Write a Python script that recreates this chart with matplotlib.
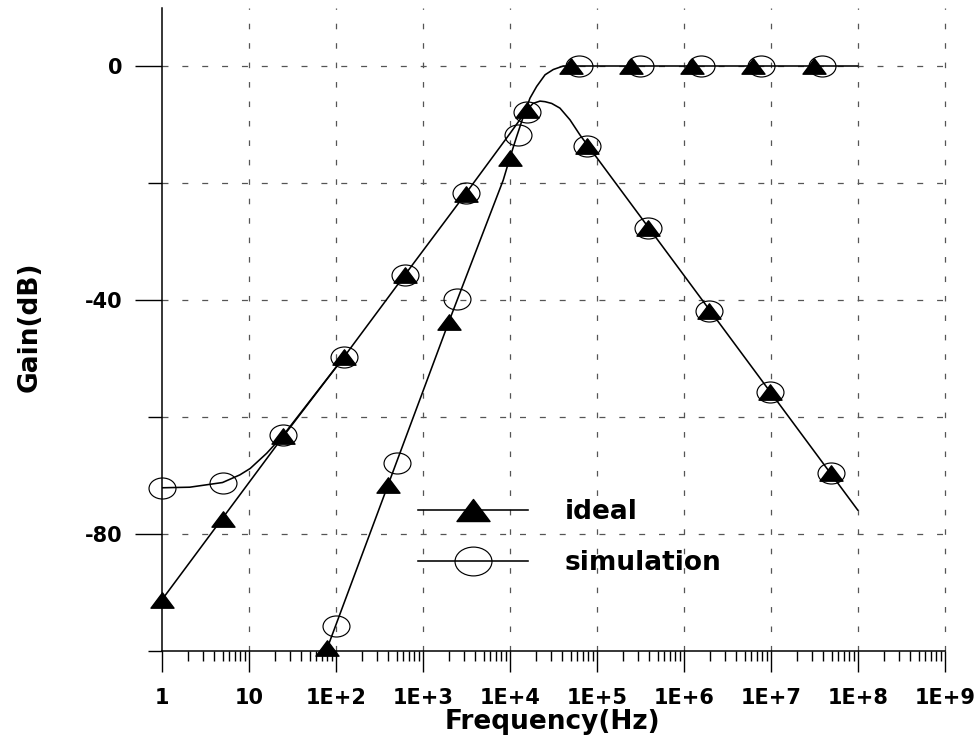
import matplotlib
matplotlib.use("Agg")
import matplotlib.pyplot as plt
from matplotlib.path import Path
from matplotlib.transforms import Affine2D
from matplotlib.lines import Line2D
import matplotlib.ticker as mticker

# ---------------- data ----------------
bp_freq = [1, 5, 25, 125, 625, 3125, 15625, 78125, 390625, 1953125, 9765625, 48828125]
bp_ideal_db = [-91.3, -77.4, -63.3, -49.7, -35.7, -21.8, -7.6, -13.7, -27.7, -41.8, -55.8, -69.6]
bp_sim_db = [-72.1, -71.2, -63.1, -49.7, -35.7, -21.7, -7.8, -13.7, -27.7, -41.8, -55.8, -69.6]

hp_ideal_freq = [80, 400, 2000, 10000, 50000, 250000, 1250000, 6250000, 31250000]
hp_ideal_db = [-99.5, -71.6, -43.7, -15.8, 0, 0, 0, 0, 0]
hp_sim_freq = [100, 500, 2500, 12500, 62500, 312500, 1562500, 7812500, 39062500]
hp_sim_db = [-95.7, -67.8, -39.9, -11.8, 0, 0, 0, 0, 0]

# curves
bp_line_freq = [1, 5, 25, 125, 625, 3125, 10000, 15625, 18500, 22300, 25500,
                30400, 37800, 49300, 64300, 80000, 1e8]
bp_line_db = [-91.3, -77.3, -63.3, -49.7, -35.7, -21.8, -11.6, -7.6, -6.4, -6.0, -6.1,
              -6.4, -7.2, -9.2, -11.8, -13.7, -75.9]
bp_sim_line_freq = [1, 2.1, 5, 7.9, 10.4, 16.1, 25, 125]
bp_sim_line_db = [-72.1, -72.0, -71.2, -69.9, -68.8, -66.2, -63.1, -49.7]
hp_line_freq = [80, 400, 2000, 8430, 10000, 12000, 14300, 17100, 20400, 25500,
                31700, 41300, 1e8]
hp_line_db = [-99.5, -71.6, -43.7, -19.5, -15.8, -12.1, -8.7, -5.5, -3.5, -1.5,
              -0.6, 0, 0]

x_ticks = [1, 10, 1e2, 1e3, 1e4, 1e5, 1e6, 1e7, 1e8, 1e9]
x_labels = ["1", "10", "1E+2", "1E+3", "1E+4", "1E+5", "1E+6", "1E+7", "1E+8", "1E+9"]
y_major = [0, -40, -80]
y_major_labels = ["0", "-40", "-80"]
y_minor = [-20, -60, -100]
legend_labels = ["ideal", "simulation"]

# ---------------- style ----------------
plt.rcParams["font.family"] = ["DejaVu Sans"]
plt.rcParams["font.weight"] = "bold"
plt.rcParams["lines.scale_dashes"] = False

fig = plt.figure(figsize=(9.78, 7.38), dpi=100)
ax = fig.add_axes([161.7 / 978, 1 - 651 / 738, (944.7 - 161.7) / 978, (651 - 7.5) / 738])

tri = Path([(0, 1), (-1.5, -1), (1.5, -1), (0, 1)],
           [Path.MOVETO, Path.LINETO, Path.LINETO, Path.CLOSEPOLY])
ell = Path.unit_circle().transformed(Affine2D().scale(1, 0.78))

tri_ms = 16.6
ell_ms = 19.4
lw = 1.15

# curves
ax.plot(bp_line_freq, bp_line_db, color="black", lw=lw, zorder=3)
ax.plot(bp_sim_line_freq, bp_sim_line_db, color="black", lw=lw, zorder=3)
ax.plot(hp_line_freq, hp_line_db, color="black", lw=lw, zorder=3)

# markers
ax.plot(bp_freq, bp_ideal_db, ls="none", marker=tri, ms=tri_ms, color="black",
        clip_on=False, zorder=4)
ax.plot(hp_ideal_freq, hp_ideal_db, ls="none", marker=tri, ms=tri_ms, color="black",
        clip_on=False, zorder=4)
ax.plot(bp_freq, bp_sim_db, ls="none", marker=ell, ms=ell_ms, mfc="none", mec="black",
        mew=0.85, clip_on=False, zorder=5)
ax.plot(hp_sim_freq, hp_sim_db, ls="none", marker=ell, ms=ell_ms, mfc="none", mec="black",
        mew=0.85, clip_on=False, zorder=5)

ax.set_xscale("log")
ax.set_xlim(1, 1e9)
ax.set_ylim(-100, 10)

ax.xaxis.set_major_locator(mticker.FixedLocator(x_ticks))
ax.xaxis.set_major_formatter(mticker.FixedFormatter(x_labels))
ax.xaxis.set_minor_locator(mticker.LogLocator(base=10, subs=range(2, 10), numticks=50))
ax.xaxis.set_minor_formatter(mticker.NullFormatter())
ax.yaxis.set_major_locator(mticker.FixedLocator(y_major))
ax.yaxis.set_major_formatter(mticker.FixedFormatter(y_major_labels))
ax.yaxis.set_minor_locator(mticker.FixedLocator(y_minor))

ax.tick_params(axis="x", which="major", direction="out", length=15, width=1.0,
               pad=11.5, labelsize=15)
ax.tick_params(axis="x", which="minor", direction="out", length=7.5, width=1.0)
ax.tick_params(axis="y", which="major", direction="out", length=19.4, width=1.0,
               pad=9, labelsize=15)
ax.tick_params(axis="y", which="minor", direction="out", length=10, width=1.0)

for lab in ax.get_xticklabels() + ax.get_yticklabels():
    lab.set_fontweight("bold")

for s in ["top", "right"]:
    ax.spines[s].set_visible(False)
for s in ["left", "bottom"]:
    ax.spines[s].set_linewidth(1.1)

# grid
for xv in x_ticks[1:]:
    ax.axvline(xv, color="#555555", lw=0.9, ls=(0, (4, 10)), zorder=1, clip_on=False)
for yv in [0, -20, -40, -60, -80]:
    ax.axhline(yv, color="#555555", lw=0.9, ls=(0, (4.3, 10)), zorder=1)

ax.set_xlabel("Frequency(Hz)", fontsize=19, fontweight="bold")
ax.set_ylabel("Gain(dB)", fontsize=19, fontweight="bold")
ax.xaxis.set_label_coords(552 / 978, 1 - 722 / 738, transform=fig.transFigure)
ax.xaxis.label.set_va("center")
ax.yaxis.set_label_coords(30 / 978, 1 - 327 / 738, transform=fig.transFigure)
ax.yaxis.label.set_va("center")

handles = [
    Line2D([], [], color="black", lw=lw, marker=tri, ms=23.8),
    Line2D([], [], color="black", lw=lw, marker=ell, ms=26.6, mfc="none", mec="black", mew=0.85),
]
leg = ax.legend(handles, legend_labels, frameon=False, numpoints=1,
                prop={"size": 19, "weight": "bold"}, handlelength=4.17,
                handletextpad=1.4, labelspacing=0.93,
                loc="center left", bbox_to_anchor=(418 / 978, 1 - 537.5 / 738),
                bbox_transform=fig.transFigure, borderaxespad=0, borderpad=0)

fig.savefig("out.png", dpi=100)
